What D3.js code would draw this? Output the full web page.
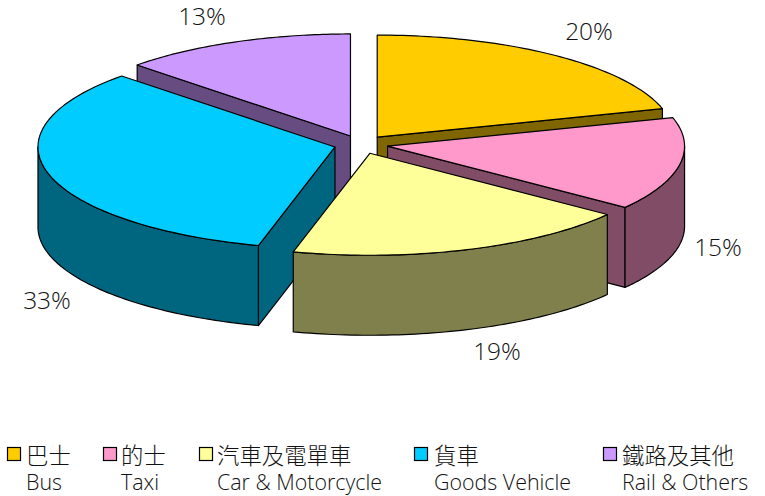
<!DOCTYPE html>
<html><head><meta charset="utf-8">
<script src="https://cdn.jsdelivr.net/npm/d3@7"></script>
<style>
html,body{margin:0;padding:0;background:#fff}
svg{display:block}
text{font-family:"Open Sans","Noto Sans CJK TC",sans-serif;fill:#111;font-weight:300}
.zh{font-family:"Noto Sans CJK TC",sans-serif;font-weight:300}
</style></head><body>
<svg id="c" width="765" height="496"></svg>
<script>
const namesZh=["巴士","的士","汽車及電單車","貨車","鐵路及其他"];
const namesEn=["Bus","Taxi","Car & Motorcycle","Goods Vehicle","Rail & Others"];
const values=[20.5,14.75,18.9,33.1,12.75];
const pctLabels=["20%","15%","19%","33%","13%"];
const topColors=["#ffcc00","#ff99cc","#ffff99","#00ccff","#cc99ff"];
const wallColors=["#806600","#804c66","#80804c","#006680","#664c80"];
const labelPos=[[589,32],[718,248],[497,352],[47,301],[202,17]];
const legendSwatchX=[7,103,199,414,603];
const legendTextX=[26,121,217,434,622];
const drawOrder=[0,4,1,3,2];

const svg=d3.select("#c");
const cx=361,cy=144.5,rx=297,ry=102,depth=80,explode=27/297;
const sx=d3.scaleLinear().domain([-1,1]).range([-rx,rx]);
const sy=d3.scaleLinear().domain([-1,1]).range([-ry,ry]);
const arcs=d3.pie().sort(null).value(d=>d).startAngle(0).endAngle(2*Math.PI)(values);
const line=d3.line();
const rim=(a0,a1)=>d3.range(0,61).map(i=>a0+(a1-a0)*i/60);

arcs.forEach(d=>{d.mid=(d.startAngle+d.endAngle)/2;
  d.ox=cx+sx(Math.sin(d.mid)*explode);d.oy=cy+sy(-Math.cos(d.mid)*explode);
  d.pt=a=>[d.ox+sx(Math.sin(a)),d.oy+sy(-Math.cos(a))];});

const g=svg.append("g").attr("stroke","#000").attr("stroke-width",1.2).attr("stroke-linejoin","round");
drawOrder.forEach(i=>{
  const d=arcs[i],A=d.startAngle,B=d.endAngle,apex=[d.ox,d.oy];
  const down=p=>[p[0],p[1]+depth];
  [[A,Math.sin(A)<-1e-6],[B,Math.sin(B)>1e-6]].forEach(([a,vis])=>{
    if(!vis)return;
    const p=d.pt(a);
    g.append("path").attr("fill",wallColors[i]).attr("d",line([apex,p,down(p),down(apex)])+"Z");
  });
  const a0=Math.max(A,Math.PI/2),a1=Math.min(B,1.5*Math.PI);
  if(a1>a0){
    const t=rim(a0,a1).map(d.pt);
    g.append("path").attr("fill",wallColors[i]).attr("d",line(t.concat(t.map(down).reverse()))+"Z");
  }
  g.append("path").attr("fill",topColors[i]).attr("d",line([apex].concat(rim(A,B).map(d.pt)))+"Z");
});

svg.append("g").selectAll("text").data(pctLabels).join("text")
  .attr("x",(d,i)=>labelPos[i][0]).attr("y",(d,i)=>labelPos[i][1]+8)
  .attr("text-anchor","middle").attr("font-size",24.5).text(d=>d);

const lg=svg.append("g");
namesZh.forEach((n,i)=>{
  lg.append("rect").attr("x",legendSwatchX[i]+.5).attr("y",447.5).attr("width",13).attr("height",13)
    .attr("fill",topColors[i]).attr("stroke","#000").attr("stroke-width",1.2);
  lg.append("text").attr("class","zh").attr("x",legendTextX[i]).attr("y",464).attr("font-size",22.4).text(n);
  lg.append("text").attr("x",legendTextX[i]).attr("y",490).attr("font-size",21.4).text(namesEn[i]);
});
</script></body></html>
